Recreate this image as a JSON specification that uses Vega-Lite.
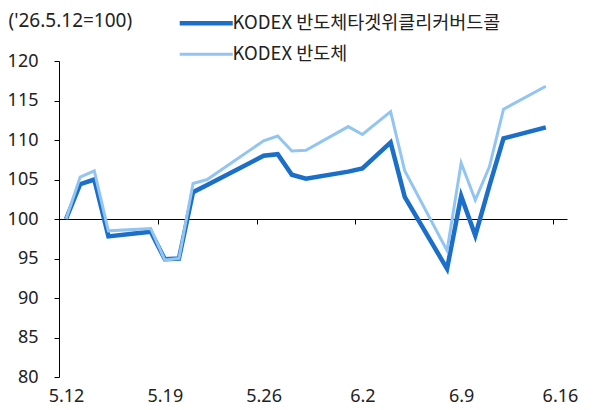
{
  "$schema": "https://vega.github.io/schema/vega-lite/v6.json",
  "width": 508,
  "height": 316,
  "autosize": {"type": "none"},
  "padding": {"left": 59, "top": 61, "right": 27, "bottom": 33},
  "background": "white",
  "config": {
    "view": {"stroke": null},
    "font": "Noto Sans, Noto Sans CJK KR",
    "axis": {"labelFont": "Noto Sans, Noto Sans CJK KR", "titleFont": "Noto Sans, Noto Sans CJK KR"},
    "legend": {"labelFont": "Noto Sans CJK KR"}
  },
  "data": {
    "values": [
      {"date": "2026/05/12", "series": "KODEX 반도체타겟위클리커버드콜", "value": 100},
      {"date": "2026/05/13", "series": "KODEX 반도체타겟위클리커버드콜", "value": 104.4},
      {"date": "2026/05/14", "series": "KODEX 반도체타겟위클리커버드콜", "value": 105.0},
      {"date": "2026/05/15", "series": "KODEX 반도체타겟위클리커버드콜", "value": 97.8},
      {"date": "2026/05/18", "series": "KODEX 반도체타겟위클리커버드콜", "value": 98.4},
      {"date": "2026/05/19", "series": "KODEX 반도체타겟위클리커버드콜", "value": 94.9},
      {"date": "2026/05/20", "series": "KODEX 반도체타겟위클리커버드콜", "value": 95.0},
      {"date": "2026/05/21", "series": "KODEX 반도체타겟위클리커버드콜", "value": 103.4},
      {"date": "2026/05/22", "series": "KODEX 반도체타겟위클리커버드콜", "value": 104.3},
      {"date": "2026/05/26", "series": "KODEX 반도체타겟위클리커버드콜", "value": 108.0},
      {"date": "2026/05/27", "series": "KODEX 반도체타겟위클리커버드콜", "value": 108.2},
      {"date": "2026/05/28", "series": "KODEX 반도체타겟위클리커버드콜", "value": 105.6},
      {"date": "2026/05/29", "series": "KODEX 반도체타겟위클리커버드콜", "value": 105.1},
      {"date": "2026/06/01", "series": "KODEX 반도체타겟위클리커버드콜", "value": 106.0},
      {"date": "2026/06/02", "series": "KODEX 반도체타겟위클리커버드콜", "value": 106.4},
      {"date": "2026/06/04", "series": "KODEX 반도체타겟위클리커버드콜", "value": 109.7},
      {"date": "2026/06/05", "series": "KODEX 반도체타겟위클리커버드콜", "value": 102.8},
      {"date": "2026/06/08", "series": "KODEX 반도체타겟위클리커버드콜", "value": 93.7},
      {"date": "2026/06/09", "series": "KODEX 반도체타겟위클리커버드콜", "value": 102.9},
      {"date": "2026/06/10", "series": "KODEX 반도체타겟위클리커버드콜", "value": 97.9},
      {"date": "2026/06/11", "series": "KODEX 반도체타겟위클리커버드콜", "value": 104.2},
      {"date": "2026/06/12", "series": "KODEX 반도체타겟위클리커버드콜", "value": 110.2},
      {"date": "2026/06/15", "series": "KODEX 반도체타겟위클리커버드콜", "value": 111.6},
      {"date": "2026/05/12", "series": "KODEX 반도체", "value": 100},
      {"date": "2026/05/13", "series": "KODEX 반도체", "value": 105.3},
      {"date": "2026/05/14", "series": "KODEX 반도체", "value": 106.1},
      {"date": "2026/05/15", "series": "KODEX 반도체", "value": 98.5},
      {"date": "2026/05/18", "series": "KODEX 반도체", "value": 98.8},
      {"date": "2026/05/19", "series": "KODEX 반도체", "value": 94.8},
      {"date": "2026/05/20", "series": "KODEX 반도체", "value": 95.0},
      {"date": "2026/05/21", "series": "KODEX 반도체", "value": 104.5},
      {"date": "2026/05/22", "series": "KODEX 반도체", "value": 105.0},
      {"date": "2026/05/26", "series": "KODEX 반도체", "value": 109.9},
      {"date": "2026/05/27", "series": "KODEX 반도체", "value": 110.5},
      {"date": "2026/05/28", "series": "KODEX 반도체", "value": 108.6},
      {"date": "2026/05/29", "series": "KODEX 반도체", "value": 108.7},
      {"date": "2026/06/01", "series": "KODEX 반도체", "value": 111.7},
      {"date": "2026/06/02", "series": "KODEX 반도체", "value": 110.7},
      {"date": "2026/06/04", "series": "KODEX 반도체", "value": 113.6},
      {"date": "2026/06/05", "series": "KODEX 반도체", "value": 106.1},
      {"date": "2026/06/08", "series": "KODEX 반도체", "value": 96.0},
      {"date": "2026/06/09", "series": "KODEX 반도체", "value": 107.1},
      {"date": "2026/06/10", "series": "KODEX 반도체", "value": 102.4},
      {"date": "2026/06/11", "series": "KODEX 반도체", "value": 106.6},
      {"date": "2026/06/12", "series": "KODEX 반도체", "value": 113.9},
      {"date": "2026/06/15", "series": "KODEX 반도체", "value": 116.8}
    ]
  },
  "layer": [
    {
      "mark": {"type": "line", "strokeJoin": "miter"},
      "encoding": {
        "x": {
          "field": "date",
          "type": "temporal",
          "scale": {"domain": [
            {"year": 2026, "month": 5, "date": 11, "hours": 12},
            {"year": 2026, "month": 6, "date": 16, "hours": 12}
          ]},
          "axis": {
            "orient": "bottom",
            "values": [
              {"year": 2026, "month": 5, "date": 12},
              {"year": 2026, "month": 5, "date": 19},
              {"year": 2026, "month": 5, "date": 26},
              {"year": 2026, "month": 6, "date": 2},
              {"year": 2026, "month": 6, "date": 9},
              {"year": 2026, "month": 6, "date": 16}
            ],
            "format": "%-m.%-d",
            "domain": false,
            "ticks": false,
            "grid": false,
            "labelAngle": 0,
            "labelFontSize": 18,
            "labelColor": "#222",
            "labelPadding": 10,
            "labelFlush": false,
            "labelOverlap": false,
            "title": null
          }
        },
        "y": {
          "field": "value",
          "type": "quantitative",
          "scale": {"domain": [80, 120], "nice": false, "zero": false},
          "axis": {
            "values": [80, 85, 90, 95, 100, 105, 110, 115, 120],
            "grid": false,
            "domainColor": "#000",
            "tickColor": "#000",
            "tickSize": 5,
            "labelFontSize": 18,
            "labelColor": "#222",
            "labelPadding": 16,
            "labelOverlap": false,
            "labelFlush": false,
            "title": "('26.5.12=100)",
            "titleAngle": 0,
            "titleAlign": "left",
            "titleBaseline": "middle",
            "titleX": -51,
            "titleY": -41,
            "titleFontSize": 19,
            "titleFontWeight": "normal",
            "titleColor": "#222"
          }
        },
        "color": {
          "field": "series",
          "type": "nominal",
          "scale": {"domain": ["KODEX 반도체타겟위클리커버드콜", "KODEX 반도체"], "range": ["#1B6FC8", "#92C5F2"]},
          "legend": {
            "orient": "none",
            "legendX": 138,
            "legendY": -47,
            "title": null,
            "symbolType": "M -4 0 L 4 0",
            "symbolSize": 176,
            "labelFontSize": 18.5,
            "labelColor": "#222",
            "labelOffset": 17,
            "labelLimit": 0,
            "rowPadding": 12,
            "padding": 0
          }
        },
        "strokeWidth": {
          "field": "series",
          "type": "nominal",
          "scale": {"domain": ["KODEX 반도체타겟위클리커버드콜", "KODEX 반도체"], "range": [4.5, 3]},
          "legend": {
            "orient": "none",
            "legendX": 138,
            "legendY": -47,
            "title": null,
            "symbolType": "M -4 0 L 4 0",
            "symbolSize": 176,
            "labelFontSize": 18.5,
            "labelColor": "#222",
            "labelOffset": 17,
            "labelLimit": 0,
            "rowPadding": 12,
            "padding": 0
          }
        }
      }
    },
    {
      "mark": {"type": "point", "opacity": 0},
      "encoding": {
        "x": {
          "field": "date",
          "type": "temporal",
          "axis": {
            "orient": "bottom",
            "offset": -158,
            "values": [
              {"year": 2026, "month": 5, "date": 12},
              {"year": 2026, "month": 5, "date": 19},
              {"year": 2026, "month": 5, "date": 26},
              {"year": 2026, "month": 6, "date": 2},
              {"year": 2026, "month": 6, "date": 9},
              {"year": 2026, "month": 6, "date": 16}
            ],
            "labels": false,
            "domain": true,
            "ticks": true,
            "tickSize": 5,
            "tickOffset": -7,
            "grid": false,
            "domainColor": "#000",
            "tickColor": "#000",
            "title": null
          }
        }
      }
    }
  ],
  "resolve": {"axis": {"x": "independent"}}
}
